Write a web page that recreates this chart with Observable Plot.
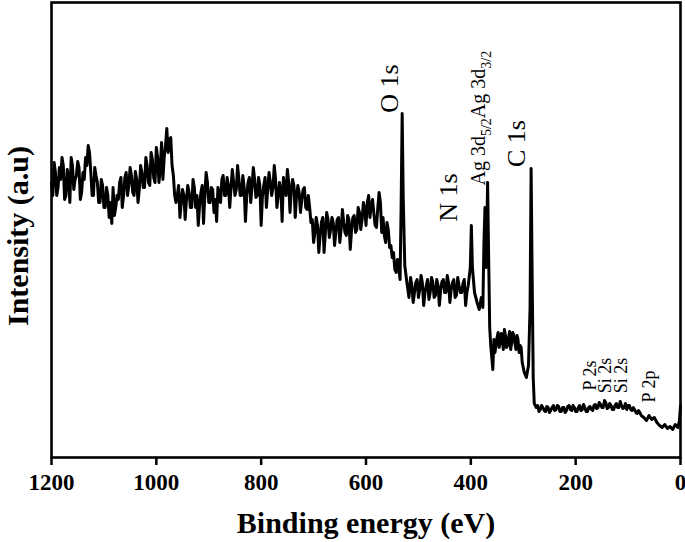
<!DOCTYPE html>
<html>
<head>
<meta charset="utf-8">
<script src="https://cdn.jsdelivr.net/npm/d3@7"></script>
<script src="https://cdn.jsdelivr.net/npm/@observablehq/plot@0.6"></script>
<style>
  html, body { margin: 0; padding: 0; background: #fff; }
  #chart svg { display: block; }
</style>
</head>
<body>
<div id="chart"></div>
<script>
// Binding energy (eV) and intensity (a.u.)
const energy = [
  1200,1195,1190,1185,1180,1175,1170,1165,1160,1155,1150,1145,1140,
  1135,1130,1125,1120,1115,1110,1105,1100,1095,1090,1085,1080,1075,1070,1065,1060,1055,1050,1045,1040,
  1035,1030,1025,1020,1015,1010,1005,1000,995,990,985,980,975,970,965,960,955,950,945,940,
  935,930,925,920,915,910,905,900,895,890,885,880,875,870,865,860,855,850,845,840,
  835,830,825,820,815,810,805,800,795,790,785,780,775,770,765,760,755,750,745,740,
  735,730,725,720,715,710,705,700,695,690,685,680,675,670,665,660,655,650,645,640,
  635,630,625,620,615,610,605,600,595,590,585,580,575,570,565,560,555,550,545,540,
  535,533,531,529,526,522,518,515,510,505,500,495,490,485,480,475,470,465,460,455,
  450,445,440,435,430,425,420,415,410,405,401,399,397,393,388,384,380,377,375,373,
  371,369,368,366,364,362,358,354,350,346,342,338,334,330,326,322,318,314,310,306,
  302,298,294,290,287,285,283,281,279,275,270,265,260,255,250,245,240,235,230,225,
  220,215,210,205,200,195,190,185,180,175,170,165,160,155,150,145,140,135,130,125,
  120,115,110,105,100,95,90,85,80,75,70,65,60,55,50,45,40,35,30,25,
  20,15,10,5,2,0
];
const intensity = [
  275,295,262,290,300,258,288,255,292,278,296,258,285,
  300,312,285,262,282,255,278,250,270,240,234,242,262,275,250,280,262,290,265,286,
  255,292,270,300,275,305,280,310,275,315,300,329,318,292,262,262,240,268,238,272,
  250,278,250,232,265,234,285,255,270,245,236,262,278,262,280,250,288,262,292,262,
  282,236,275,255,290,260,280,232,272,250,285,262,292,250,275,236,270,288,245,278,
  240,272,245,268,250,262,235,215,240,205,235,205,245,220,240,212,238,215,248,225,
  242,208,240,225,250,228,255,232,262,252,244,230,265,225,222,235,210,200,188,198,
  178,250,344,260,192,175,160,180,155,175,160,182,152,172,158,180,160,178,152,176,
  165,182,155,175,160,180,165,174,152,172,190,232,190,165,155,148,160,150,215,250,
  190,240,275,200,130,112,88,105,120,110,124,108,122,112,126,115,122,108,118,112,
  95,85,80,92,150,289,180,80,54,50,46,52,47,51,45,50,47,52,46,50,
  45,51,48,52,46,50,47,53,46,50,48,52,49,55,50,57,49,54,48,52,
  50,56,49,54,52,48,50,45,47,42,40,37,42,38,40,35,32,30,33,29,
  31,28,33,30,37,52
];

// Extra readings between the points above (dense noise of the survey scan)
const energyDetail = [
  1197.5,1192.5,1187.5,1182.5,1177.5,1172.5,1167.5,1162.5,1157.5,1152.5,1147.5,1142.5,
  1137.5,1132.5,1127.5,1122.5,1117.5,1112.5,1107.5,1102.5,1097.5,1092.5,1087.5,1082.5,1077.5,1072.5,1067.5,1062.5,1057.5,1052.5,1047.5,1042.5,1037.5,
  1032.5,1027.5,1022.5,1017.5,1012.5,1007.5,1002.5,997.5,992.5,987.5,982.5,977.5,972.5,967.5,962.5,957.5,952.5,947.5,942.5,937.5,
  932.5,927.5,922.5,917.5,912.5,907.5,902.5,897.5,892.5,887.5,882.5,877.5,872.5,867.5,862.5,857.5,852.5,847.5,842.5,837.5,
  832.5,827.5,822.5,817.5,812.5,807.5,802.5,797.5,792.5,787.5,782.5,777.5,772.5,767.5,762.5,757.5,752.5,747.5,742.5,737.5,
  732.5,727.5,722.5,717.5,712.5,707.5,702.5,697.5,692.5,687.5,682.5,677.5,672.5,667.5,662.5,657.5,652.5,647.5,642.5,637.5,
  632.5,627.5,622.5,617.5,612.5,607.5,602.5,597.5,592.5,587.5,582.5,577.5,572.5,567.5,562.5,557.5,552.5,547.5,542.5,537.5,
  512.5,507.5,502.5,497.5,492.5,487.5,482.5,477.5,472.5,467.5,462.5,457.5,452.5,447.5,442.5,437.5,432.5,427.5,422.5,417.5,412.5,407.5,
  356,352,348,344,340,336,332,328,324,320,316,312,308,304,
  272.5,267.5,262.5,257.5,252.5,247.5,242.5,237.5,232.5,227.5,222.5,217.5,212.5,207.5,202.5,197.5,192.5,187.5,182.5,177.5,
  172.5,167.5,162.5,157.5,152.5,147.5,142.5,137.5,132.5,127.5,122.5,117.5,112.5,107.5,102.5,97.5,92.5,87.5,82.5,77.5
];
const intensityDetail = [
  262,285,270,278,292,262,280,300,268,282,290,265,
  278,292,305,262,290,275,255,272,250,262,255,270,250,258,280,262,285,272,282,262,278,
  268,285,270,292,272,298,275,300,290,278,312,305,320,282,255,272,255,262,258,265,
  250,270,262,252,272,262,275,255,268,258,270,255,282,262,272,270,275,268,278,262,
  270,262,280,270,278,262,272,262,280,268,275,270,278,262,268,280,262,275,268,272,
  262,265,258,270,248,250,238,225,232,222,240,225,238,228,235,225,240,228,235,222,
  238,228,242,228,245,238,248,255,240,258,232,250,255,240,215,228,212,205,185,190,
  172,165,178,168,175,165,178,165,175,162,172,168,178,165,175,168,178,162,172,165,178,165,
  118,112,125,115,118,128,110,120,108,125,115,122,105,110,
  52,48,50,46,50,47,52,48,51,46,50,47,52,47,50,46,52,48,50,46,
  51,47,53,50,53,50,55,50,52,48,54,50,52,50,48,52,47,48,44,45
];

const xTicks = [1200, 1000, 800, 600, 400, 200, 0];
const xLabel = "Binding energy (eV)";
const yLabel = "Intensity (a.u)";

// Peak annotations: text, energy, intensity
const peakText = ["O 1s", "N 1s", "C 1s"];
const peakE = [555, 443, 313];
const peakI = [369, 260, 314];

const agText = "Ag 3d5/2Ag 3d3/2";
const agE = [385];
const agI = [272];

const minorText = ["P 2s", "Si 2s", "Si 2s", "P 2p"];
const minorE = [172, 143, 113, 59];
const minorI = [82, 82, 82, 71];

const spectrum = energy.map((e, i) => ({e, v: intensity[i]}))
  .concat(energyDetail.map((e, i) => ({e, v: intensityDetail[i]})))
  .sort((a, b) => b.e - a.e);
const peaks = peakText.map((t, i) => ({t, e: peakE[i], v: peakI[i]}));
const ag = [{t: agText, e: agE[0], v: agI[0]}];
const minors = minorText.map((t, i) => ({t, e: minorE[i], v: minorI[i]}));

const serif = "Liberation Serif, Times New Roman, serif";

const chart = Plot.plot({
  width: 685,
  height: 542,
  marginLeft: 51,
  marginRight: 5,
  marginTop: 2,
  marginBottom: 85,
  style: {fontFamily: serif, background: "#fff", color: "#000"},
  x: {domain: [1200, 0], label: null},
  y: {domain: [0, 455], axis: null, label: null},
  marks: [
    Plot.line(spectrum, {x: "e", y: "v", stroke: "#000", strokeWidth: 3, strokeLinejoin: "round"}),
    Plot.axisX({ticks: xTicks, tickSize: 8, tickPadding: 8, strokeWidth: 2.5, tickFormat: d => String(d),
      fontSize: 23, fontWeight: "bold", fontFamily: serif, label: null}),
    Plot.frame({stroke: "#000", strokeWidth: 2.6}),
    Plot.text(peaks, {x: "e", y: "v", text: "t", rotate: -90, fontSize: 26, fontFamily: serif,
      textAnchor: "middle", lineAnchor: "middle", fill: "#000"}),
    Plot.text(ag, {x: "e", y: "v", text: "t", rotate: -90, fontSize: 20, fontFamily: serif,
      textAnchor: "start", lineAnchor: "middle", fill: "#000"}),
    Plot.text(minors, {x: "e", y: "v", text: "t", rotate: -90, fontSize: 18, fontFamily: serif,
      textAnchor: "middle", lineAnchor: "middle", fill: "#000"}),
    Plot.text([xLabel], {frameAnchor: "bottom", dy: 66, text: d => d, fontSize: 30, fontWeight: "bold",
      fontFamily: serif, lineAnchor: "middle", fill: "#000"}),
    Plot.text([yLabel], {frameAnchor: "left", dx: -33, dy: 6, rotate: -90, text: d => d, fontSize: 30,
      fontWeight: "bold", fontFamily: serif, textAnchor: "middle", lineAnchor: "middle", fill: "#000"})
  ]
});

// Subscripts for the Ag 3d labels
d3.select(chart).selectAll("text").filter(function () { return this.textContent === agText; })
  .each(function () {
    const t = d3.select(this);
    t.text(null);
    t.append("tspan").text("Ag 3d");
    t.append("tspan").attr("dy", 6).attr("font-size", 14).text("5/2");
    t.append("tspan").attr("dy", -6).text("Ag 3d");
    t.append("tspan").attr("dy", 6).attr("font-size", 14).text("3/2");
  });

document.getElementById("chart").appendChild(chart);
</script>
</body>
</html>
